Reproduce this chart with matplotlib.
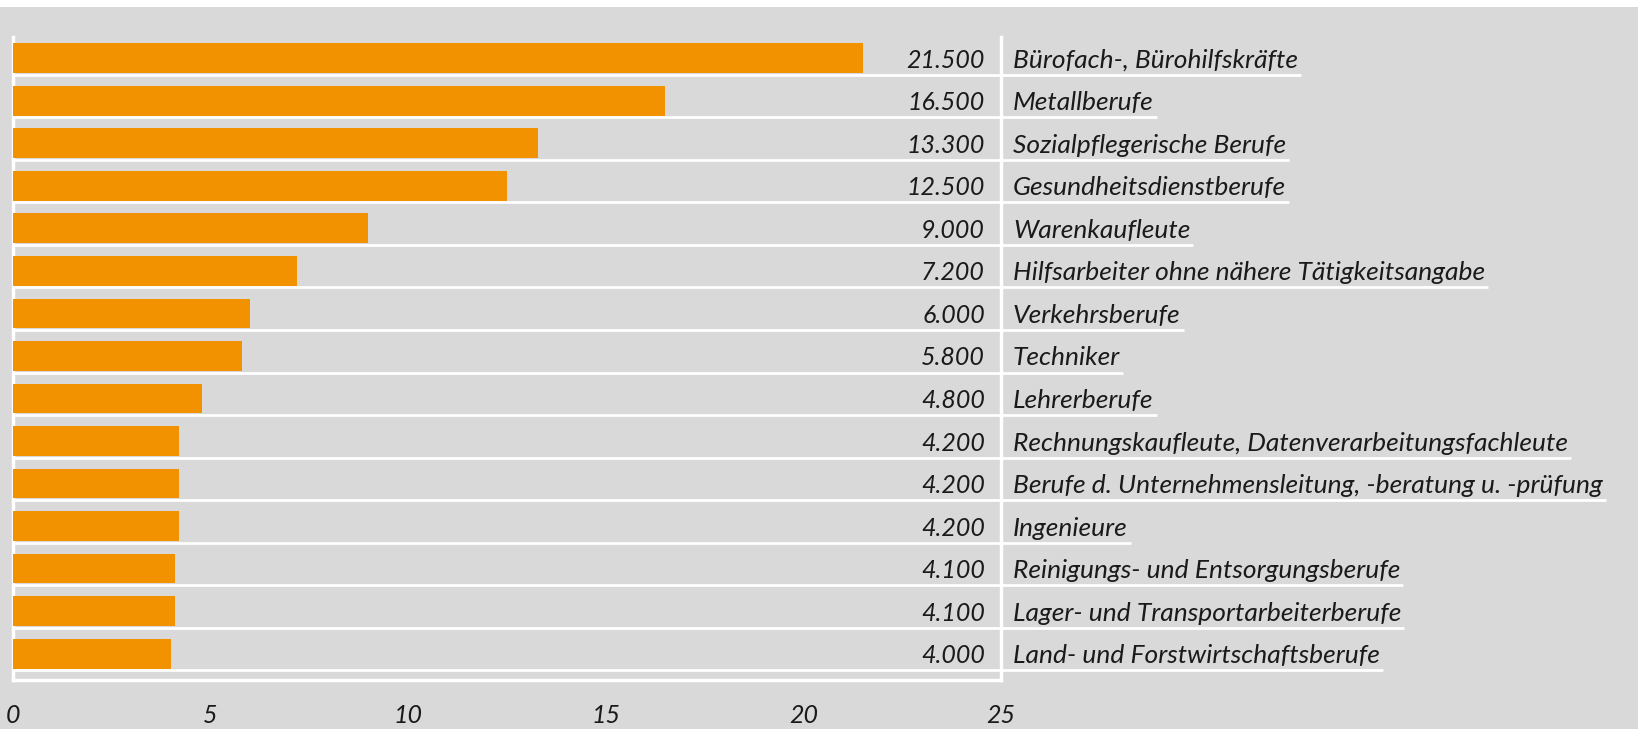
import matplotlib
matplotlib.use('Agg')
import matplotlib.pyplot as plt
from matplotlib.patches import Rectangle

categories = [
    "Bürofach-, Bürohilfskräfte",
    "Metallberufe",
    "Sozialpflegerische Berufe",
    "Gesundheitsdienstberufe",
    "Warenkaufleute",
    "Hilfsarbeiter ohne nähere Tätigkeitsangabe",
    "Verkehrsberufe",
    "Techniker",
    "Lehrerberufe",
    "Rechnungskaufleute, Datenverarbeitungsfachleute",
    "Berufe d. Unternehmensleitung, -beratung u. -prüfung",
    "Ingenieure",
    "Reinigungs- und Entsorgungsberufe",
    "Lager- und Transportarbeiterberufe",
    "Land- und Forstwirtschaftsberufe",
]
values = [21.5, 16.5, 13.3, 12.5, 9.0, 7.2, 6.0, 5.8, 4.8, 4.2, 4.2, 4.2, 4.1, 4.1, 4.0]
value_labels = ["21.500", "16.500", "13.300", "12.500", "9.000", "7.200", "6.000", "5.800",
                "4.800", "4.200", "4.200", "4.200", "4.100", "4.100", "4.000"]
xticks = [0, 5, 10, 15, 20, 25]

FONT = ['Lato', 'DejaVu Sans']
BG = '#d9d9d9'
ORANGE = '#f39200'
TXT = '#1a1a1a'

W, H = 1638, 729
fig = plt.figure(figsize=(W / 100, H / 100), dpi=100, facecolor=BG)
fig.add_artist(Rectangle((0, 1 - 7 / H), 1, 7 / H, transform=fig.transFigure,
                         facecolor='white', edgecolor='none', zorder=-5))

ax = fig.add_axes([12.5 / W, 1 - 680 / H, (1001 - 12.5) / W, (680 - 37) / H])
ax.set_facecolor('none')
n = len(categories)
ypos = list(range(n))
ax.barh(ypos, values, height=0.7, color=ORANGE, zorder=3)
ax.set_xlim(0, 25)
ax.set_ylim(n - 1 + 0.62, -0.5)

ax.spines['top'].set_visible(False)
for s in ['left', 'right', 'bottom']:
    ax.spines[s].set_color('white')
    ax.spines[s].set_linewidth(2.5)
ax.set_yticks([])
ax.set_xticks(xticks)
ax.set_xticklabels([str(t) for t in xticks], family=FONT, style='italic',
                   fontsize=18, color=TXT)
ax.tick_params(axis='x', length=0, pad=17)

labels = []
for i, (v, c) in enumerate(zip(value_labels, categories)):
    ax.annotate(v, xy=(25, i), xytext=(-16, -2), textcoords='offset pixels',
                ha='right', va='center', fontsize=18, family=FONT, color=TXT,
                style='italic', annotation_clip=False)
    t = ax.annotate(c, xy=(25, i), xytext=(12, -2), textcoords='offset pixels',
                    ha='left', va='center', fontsize=19, family=FONT, color=TXT,
                    style='italic', annotation_clip=False)
    labels.append(t)

fig.canvas.draw()
renderer = fig.canvas.get_renderer()
inv = ax.transData.inverted()
for i, t in enumerate(labels):
    bb = t.get_window_extent(renderer)
    x_end = inv.transform((bb.x1 + 3, 0))[0]
    ax.plot([0, x_end], [i + 0.39, i + 0.39], color='white', lw=2,
            clip_on=False, zorder=2, solid_capstyle='butt')

fig.savefig('out.png', dpi=100, facecolor=fig.get_facecolor())
